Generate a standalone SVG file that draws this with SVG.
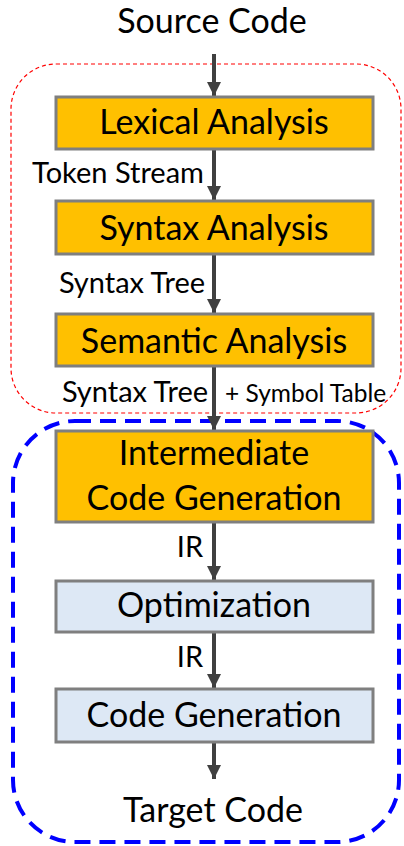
<svg xmlns="http://www.w3.org/2000/svg" width="404" height="846" viewBox="0 0 404 846">
  <style>
    text { font-family: Lato, "Open Sans", "Liberation Sans", sans-serif; fill: #000; text-anchor: middle; }
    .title { font-size: 34px; }
    .lbl { font-size: 29px; }
    .small { font-size: 24.5px; text-anchor: start; }
    .stage { stroke: #7f7f7f; stroke-width: 3; }
    .front { fill: #ffc000; }
    .back { fill: #dde8f5; }
    .edge { stroke: #404040; stroke-width: 4; fill: none; marker-end: url(#head); }
  </style>
  <defs>
    <marker id="head" viewBox="0 0 14 14" refX="14" refY="7" markerWidth="14" markerHeight="14" markerUnits="userSpaceOnUse" orient="auto">
      <path d="M0,0 L14,7 L0,14 Z" fill="#404040"/>
    </marker>
  </defs>

  <!-- phase groupings -->
  <g id="frontend-group">
    <rect x="11" y="64" width="390" height="349" rx="45" fill="none" stroke="#ff0000" stroke-width="1.2" stroke-dasharray="4 3"/>
  </g>
  <g id="backend-group">
    <rect x="13" y="421" width="386" height="421" rx="62" fill="none" stroke="#0000ff" stroke-width="4" stroke-dasharray="16 9"/>
  </g>

  <!-- connectors -->
  <g id="connectors">
    <line class="edge" x1="214" y1="54" x2="214" y2="96"/>
    <line class="edge" x1="214" y1="150" x2="214" y2="200"/>
    <line class="edge" x1="214" y1="255" x2="214" y2="313"/>
    <line class="edge" x1="214" y1="367" x2="214" y2="430"/>
    <line class="edge" x1="214" y1="522" x2="214" y2="580"/>
    <line class="edge" x1="214" y1="633" x2="214" y2="688"/>
    <line class="edge" x1="214" y1="742" x2="214" y2="779"/>
    <text class="lbl" x="118" y="183">Token Stream</text>
    <text class="lbl" x="132" y="293">Syntax Tree</text>
    <text class="lbl" x="135" y="402">Syntax Tree</text>
    <text class="small" x="225" y="402">+ Symbol Table</text>
    <text class="lbl" x="190" y="557">IR</text>
    <text class="lbl" x="190" y="667">IR</text>
  </g>

  <!-- terminals -->
  <g id="source">
    <text class="title" x="212" y="33">Source Code</text>
  </g>
  <g id="target">
    <text class="title" x="213" y="822">Target Code</text>
  </g>

  <!-- compiler stages -->
  <g id="lexical">
    <rect class="stage front" x="56" y="97" width="317" height="52"/>
    <text class="title" x="214" y="134">Lexical Analysis</text>
  </g>
  <g id="syntax">
    <rect class="stage front" x="56" y="201" width="317" height="53"/>
    <text class="title" x="214" y="240">Syntax Analysis</text>
  </g>
  <g id="semantic">
    <rect class="stage front" x="56" y="314" width="317" height="52"/>
    <text class="title" x="214" y="353">Semantic Analysis</text>
  </g>
  <g id="intermediate">
    <rect class="stage front" x="56" y="431" width="317" height="91"/>
    <text class="title" x="214" y="465">Intermediate</text>
    <text class="title" x="214" y="510">Code Generation</text>
  </g>
  <g id="optimization">
    <rect class="stage back" x="56" y="581" width="317" height="51"/>
    <text class="title" x="214" y="617">Optimization</text>
  </g>
  <g id="codegen">
    <rect class="stage back" x="56" y="689" width="317" height="53"/>
    <text class="title" x="214" y="727">Code Generation</text>
  </g>
</svg>
